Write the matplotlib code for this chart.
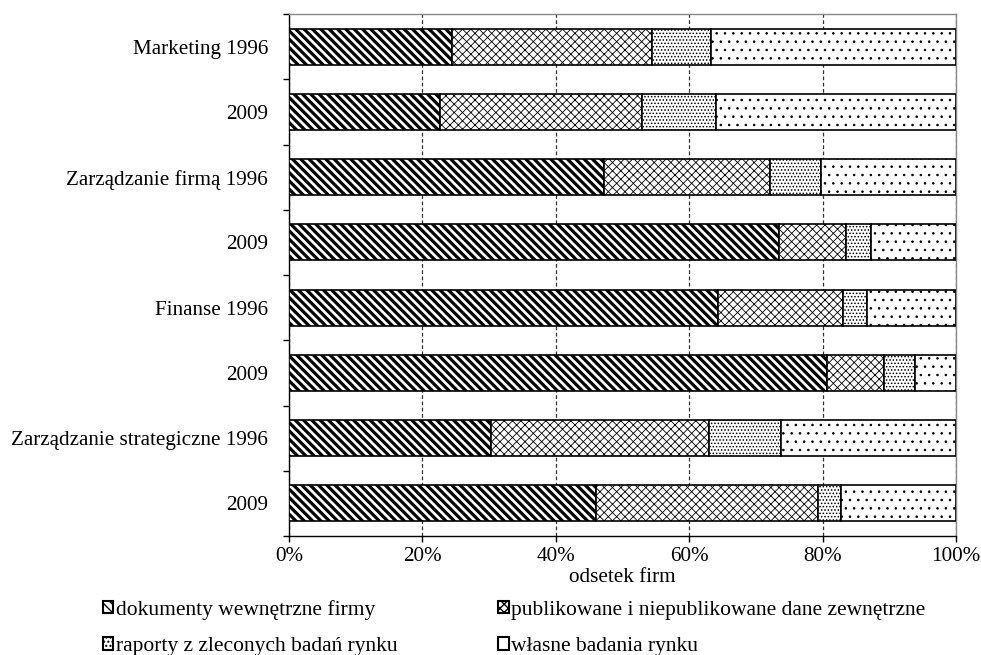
import matplotlib
matplotlib.use("Agg")
import matplotlib.pyplot as plt
from matplotlib.patches import Patch
import numpy as np

plt.rcParams['font.family'] = ['Liberation Serif', 'DejaVu Serif']
plt.rcParams['font.size'] = 15.2

categories = ["Marketing 1996", "2009", "Zarządzanie firmą 1996", "2009",
              "Finanse 1996", "2009", "Zarządzanie strategiczne 1996", "2009"]
series_names = ["dokumenty wewnętrzne firmy",
                "publikowane i niepublikowane dane zewnętrzne",
                "raporty z zleconych badań rynku",
                "własne badania rynku"]
dokumenty = [24.5, 22.6, 47.2, 73.5, 64.3, 80.6, 30.3, 46.0]
publikowane = [29.9, 30.3, 24.9, 10.0, 18.7, 8.6, 32.6, 33.3]
raporty = [8.9, 11.1, 7.7, 3.8, 3.7, 4.7, 10.8, 3.5]
wlasne = [36.7, 36.0, 20.2, 12.7, 13.3, 6.1, 26.3, 17.2]
xticklabels = ["0%", "20%", "40%", "60%", "80%", "100%"]

fig = plt.figure(figsize=(9.81, 6.55), dpi=100)
ax = fig.add_axes([289/981, 1-536/655, (956-289)/981, (536-14)/655])

BS = chr(92)
y = np.arange(len(categories))
data = [dokumenty, publikowane, raporty, wlasne]
hatches = [BS * 4, 'xxxx', '.' * 5, '..']
hlw = [2.3, 0.6, 0.7, 0.6]
left = np.zeros(len(categories))
bars = []
for vals, h, lw, name in zip(data, hatches, hlw, series_names):
    b = ax.barh(y, vals, left=left, height=0.55, color='white', edgecolor='black',
                linewidth=1.2, hatch=h, label=name, zorder=3)
    for p in b.patches:
        if hasattr(p, 'set_hatch_linewidth'):
            p.set_hatch_linewidth(lw)
    bars.append(b)
    left += np.array(vals)

ax.set_xlim(0, 100)
ax.set_ylim(len(categories) - 0.5, -0.5)
ax.set_xticks(np.arange(0, 101, 20))
ax.set_xticklabels(xticklabels)
ax.set_yticks(y)
ax.set_yticklabels(categories)
ax.set_yticks(np.arange(-0.5, len(categories), 1.0), minor=True)
ax.tick_params(axis='y', which='major', length=0, pad=15)
ax.tick_params(axis='y', which='minor', length=4, width=1, direction='out')
ax.tick_params(axis='x', which='major', length=4, width=1, direction='out', pad=4)
ax.xaxis.grid(True, linestyle=(0, (3, 2)), color='#333333', linewidth=0.9, zorder=0)
ax.set_axisbelow(True)

for s in ['left', 'bottom']:
    ax.spines[s].set_color('black')
    ax.spines[s].set_linewidth(1.0)
for s in ['top', 'right']:
    ax.spines[s].set_color('#888888')
    ax.spines[s].set_linewidth(1.0)

ax.set_xlabel("odsetek firm", labelpad=1)

leg_hatch = [BS * 4, 'xxxx', '....', '']
leg_hlw = [2.0, 0.6, 0.9, 0.6]
order = [0, 2, 1, 3]
handles = []
labels = []
for i in order:
    hp = Patch(facecolor='white', edgecolor='black', linewidth=1.5, hatch=leg_hatch[i])
    if hasattr(hp, 'set_hatch_linewidth'):
        hp.set_hatch_linewidth(leg_hlw[i])
    handles.append(hp)
    labels.append(series_names[i])
fig.legend(handles, labels, loc='upper left', bbox_to_anchor=(94/981, 1-591/655),
           ncol=2, frameon=False, handlelength=0.5, handleheight=0.5,
           handletextpad=0.1, columnspacing=4.7, labelspacing=0.82, borderaxespad=0,
           fontsize=15.5)

fig.savefig("out.png", dpi=100)
